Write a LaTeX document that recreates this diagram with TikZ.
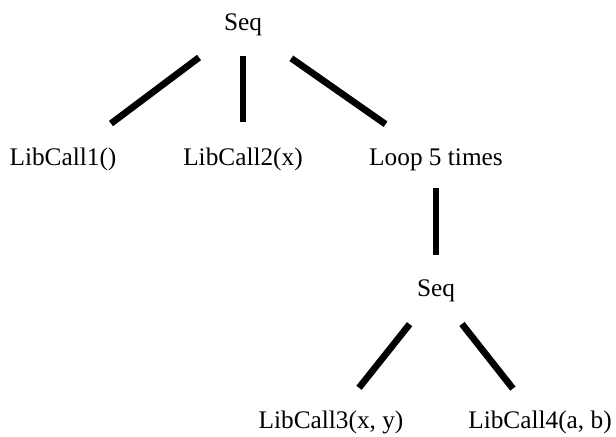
\documentclass[tikz,border=0pt]{standalone}
\usepackage{fontspec}
\setmainfont{Liberation Serif}

\begin{document}
\begin{tikzpicture}[x=0.5pt,y=0.5pt,
  tnode/.style={font=\fontsize{12.65}{15}\selectfont,inner sep=0pt,text height=1.7ex,text depth=.5ex},
  edge/.style={line width=3.35pt}]
\useasboundingbox (0,0) rectangle (616,436);
\node[tnode] (root) at (243,411.5) {Seq};
\node[tnode] (call1) at (63,276.5) {LibCall1()};
\node[tnode] (call2) at (243,276.5) {LibCall2(x)};
\node[tnode] (loop) at (436,276.5) {Loop 5 times};
\node[tnode] (seq) at (436,145) {Seq};
\node[tnode] (call3) at (331,13) {LibCall3(x, y)};
\node[tnode] (call4) at (540,13) {LibCall4(a, b)};


\draw[edge,shorten <=27.5pt,shorten >=30pt] (root.center)--(call1.center);
\draw[edge,shorten <=15.75pt,shorten >=18.75pt] (root.center)--(call2.center);
\draw[edge,shorten <=29.5pt,shorten >=30.8pt] (root.center)--(loop.center);
\draw[edge,shorten <=14.25pt,shorten >=18pt] (loop.center)--(seq.center);
\draw[edge,shorten <=21.2pt,shorten >=22.5pt] (seq.center)--(call3.center);
\draw[edge,shorten <=21pt,shorten >=21.9pt] (seq.center)--(call4.center);
\end{tikzpicture}
\end{document}
